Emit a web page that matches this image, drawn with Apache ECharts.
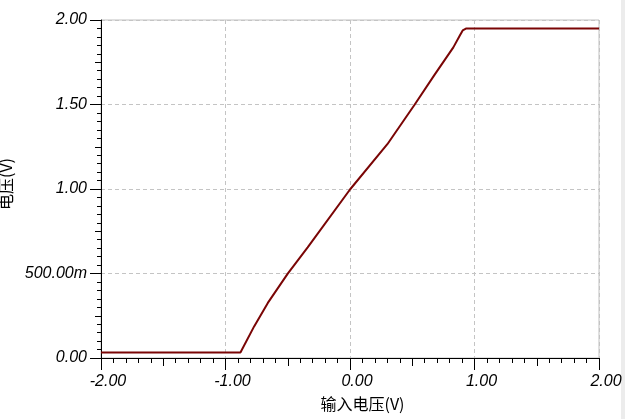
<!DOCTYPE html>
<html>
<head>
<meta charset="utf-8">
<script src="https://cdn.jsdelivr.net/npm/echarts@6/dist/echarts.min.js"></script>
<style>html,body{margin:0;padding:0;background:#fff;}#c{width:625px;height:419px;}</style>
</head>
<body>
<div id="c"></div>
<script>
// Input voltage (V)
var inputV = [-2.00, -0.88, -0.77, -0.66, -0.50, -0.34, 0.00, 0.30, 0.52, 0.68, 0.83, 0.88, 0.905, 0.935, 2.00];
// Output voltage (V)
var outputV = [0.033, 0.033, 0.187, 0.326, 0.499, 0.655, 0.997, 1.265, 1.500, 1.677, 1.838, 1.905, 1.938, 1.950, 1.950];
var yTickLabels = {"0": "0.00", "0.5": "500.00m", "1": "1.00", "1.5": "1.50", "2": "2.00"};
var xAxisName = "输入电压(V)";
var yAxisName = "电压(V)";

var pts = inputV.map(function (x, i) { return [x, outputV[i]]; });
var labelFont = { fontFamily: "Liberation Sans, Arial, sans-serif", fontStyle: "italic", fontSize: 16, color: "#000" };
var nameFont = { fontFamily: "Noto Sans CJK SC, sans-serif", fontSize: 16, color: "#000" };

var chart = echarts.init(document.getElementById('c'), null, { renderer: 'canvas' });
chart.setOption({
  animation: false,
  backgroundColor: '#fff',
  grid: { left: 101, right: 26, top: 20, bottom: 61, show: true, borderColor: '#c0c0c0', borderWidth: 1,
          containLabel: false, outerBoundsMode: 'none' },
  graphic: [{ type: 'rect', left: 621, top: 0, shape: { width: 4, height: 419 }, style: { fill: '#ececec' }, z: 0 }],
  xAxis: [{
    type: 'value', min: -2, max: 2, interval: 1, position: 'bottom',
    name: xAxisName, nameLocation: 'middle', nameGap: 38,
    nameTextStyle: Object.assign({ padding: [0, 0, 0, 25] }, nameFont),
    axisLine: { show: true, onZero: false, lineStyle: { color: '#000', width: 1 } },
    axisTick: { show: true, inside: false, length: 12, lineStyle: { color: '#000' } },
    minorTick: { show: true, splitNumber: 10, length: 5, lineStyle: { color: '#000' } },
    axisLabel: Object.assign({ margin: 16, padding: [0, 0, 0, 14], formatter: function (v) { return v.toFixed(2); } }, labelFont),
    splitLine: { show: true, lineStyle: { color: '#c4c4c4', type: [4, 3] } }
  }, {
    type: 'value', min: -2, max: 2, interval: 0.5, position: 'bottom', offset: 0,
    axisLine: { show: false, onZero: false }, axisLabel: { show: false }, splitLine: { show: false },
    axisTick: { show: true, length: 8, lineStyle: { color: '#000' } }
  }],
  yAxis: [{
    type: 'value', min: 0, max: 2, interval: 0.5, position: 'left',
    name: yAxisName, nameLocation: 'middle', nameGap: 86, nameRotate: 90,
    nameTextStyle: Object.assign({ padding: [0, 0, 0, 10] }, nameFont),
    axisLine: { show: true, onZero: false, lineStyle: { color: '#000', width: 1 } },
    axisTick: { show: true, length: 11, lineStyle: { color: '#000' } },
    minorTick: { show: true, splitNumber: 10, length: 4, lineStyle: { color: '#000' } },
    axisLabel: Object.assign({ margin: 14, formatter: function (v) { return yTickLabels[String(v)] || ''; } }, labelFont),
    splitLine: { show: true, lineStyle: { color: '#c4c4c4', type: [4, 3] } }
  }, {
    type: 'value', min: 0, max: 2, interval: 0.25, position: 'left', offset: 0,
    axisLine: { show: false, onZero: false }, axisLabel: { show: false }, splitLine: { show: false },
    axisTick: { show: true, length: 6, lineStyle: { color: '#000' } }
  }],
  series: [{
    type: 'line', xAxisIndex: 0, yAxisIndex: 0, data: pts, showSymbol: false, smooth: false,
    lineStyle: { color: '#7a0505', width: 2 }, z: 5
  }]
});
</script>
</body>
</html>
